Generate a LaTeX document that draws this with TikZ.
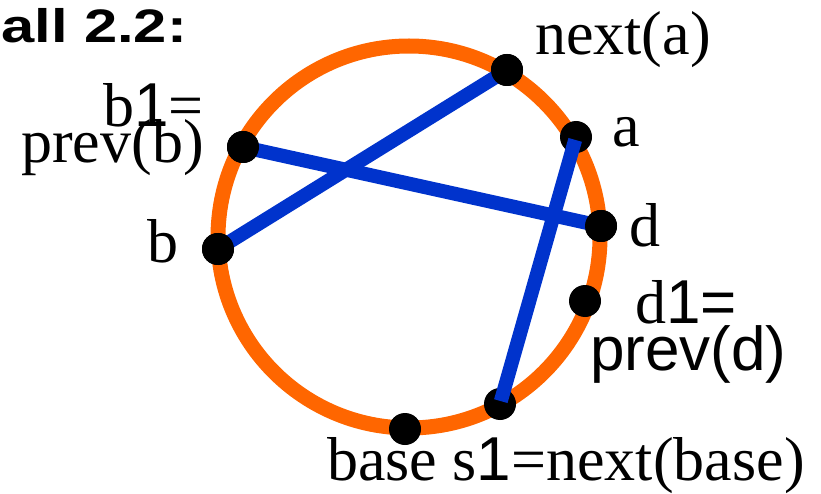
\documentclass[tikz,border=0pt]{standalone}
\usepackage{fontspec}
\setmainfont{Liberation Serif}
\setsansfont{Liberation Sans}
\definecolor{ringorange}{RGB}{255,102,0}
\definecolor{chordblue}{RGB}{0,51,204}
\begin{document}
\begin{tikzpicture}[x=1pt,y=-1pt,
  ring/.style={draw=ringorange,line width=15pt},
  chord/.style={draw=chordblue,line width=14pt,line cap=butt},
  dot/.style={circle,fill=black,minimum size=32pt,inner sep=0pt},
  lbl/.style={inner sep=0pt,font=\fontsize{62}{62}\selectfont},
  title/.style={inner sep=0pt,font=\fontsize{47}{47}\selectfont\sffamily\bfseries,xscale=1.27}]
\useasboundingbox (0,0) rectangle (821,494);
\coordinate (ctr) at (409,237);
\draw[ring] (ctr) circle[radius=191pt];
% dot positions
\node[dot] (na) at (507,70) {};
\node[dot] (a) at (576,137) {};
\node[dot] (b1) at (243,147) {};
\node[dot] (d) at (601,226) {};
\node[dot] (b) at (218,249) {};
\node[dot] (d1) at (585,301) {};
\node[dot] (s1) at (500,404) {};
\node[dot] (base) at (405,429) {};
% chords under dots
\path[chord] (b.center) -- (na.center);
\path[chord] (b1.center) -- (d.center);
% redraw dots over chords
\node[dot] at (na) {};
\node[dot] at (b1) {};
\node[dot] at (d) {};
\node[dot] at (b) {};
% chord over dots
\path[chord,shorten <=3pt,shorten >=3pt] (a.center) -- (s1.center);
% labels
\node[lbl,anchor=base west] (tna) at (535,55) {next(a)};
\node[lbl,anchor=base west] (ta) at (612,147) {a};
\node[lbl,anchor=base west] (td) at (629,247) {d};
\node[lbl,anchor=base west] (tb) at (147,262) {b};
\node[lbl,anchor=base east] (tb1) at (204,127) {b\textsf{1}=};
\node[lbl,anchor=base east] (tpb) at (204,163) {prev(b)};
\node[lbl,anchor=base west] (td1) at (635,323) {d\textsf{1=}};
\node[lbl,anchor=base west,font=\fontsize{62}{62}\selectfont\sffamily] (tpd) at (590,370) {prev(d)};
\node[lbl,anchor=base west] (tbase) at (327,480) {base s\textsf{1}=next(base)};
\node[title,anchor=base west] (ttl) at (1,43) {all 2.2:};
\end{tikzpicture}
\end{document}
